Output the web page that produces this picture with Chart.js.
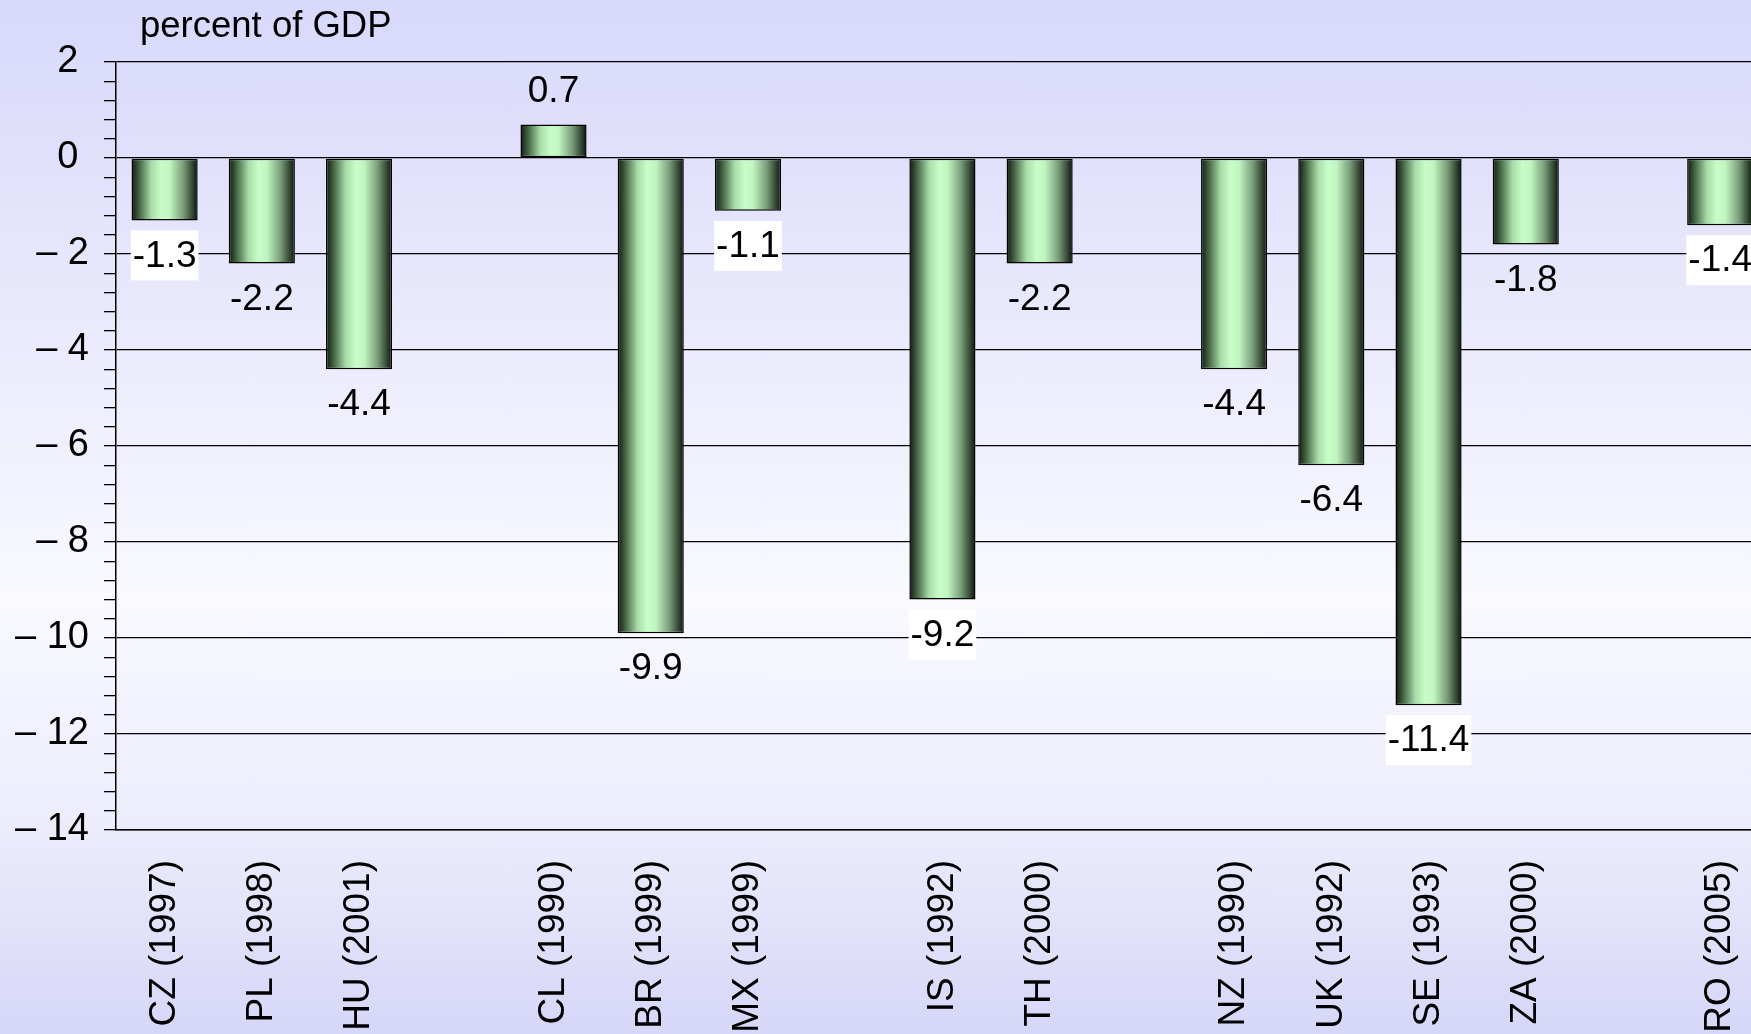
<!DOCTYPE html>
<html>
<head>
<meta charset="utf-8">
<script src="https://cdn.jsdelivr.net/npm/chart.js@4.4.1/dist/chart.umd.min.js"></script>
<style>
    html, body {
        margin: 0;
        padding: 0;
        width: 1751px;
        height: 1034px;
        overflow: hidden;
    }
    body {
        background: linear-gradient(to bottom, #d8d8fb 0%, #e6e6fc 25%, #f9f9ff 58%, #ececfc 80%, #d6d6f8 100%);
    }
    canvas { display: block; }
</style>
</head>
<body>
<canvas id="chart" width="1795" height="1034"></canvas>
<script>
const countries = ['CZ (1997)', 'PL (1998)', 'HU (2001)', '', 'CL (1990)', 'BR (1999)', 'MX (1999)', '',
    'IS (1992)', 'TH (2000)', '', 'NZ (1990)', 'UK (1992)', 'SE (1993)', 'ZA (2000)', '', 'RO (2005)'];
const balance = [-1.3, -2.2, -4.4, null, 0.7, -9.9, -1.1, null,
    -9.2, -2.2, null, -4.4, -6.4, -11.4, -1.8, null, -1.4];
const yMin = -14;
const yMax = 2;
const unitLabel = 'percent of GDP';

const FONT = "'Liberation Sans', Arial, sans-serif";
const BAR_PCT = 0.68;

const isMajor = (v) => Math.abs(v / 2 - Math.round(v / 2)) < 1e-6;

// horizontal shading of each bar (dark edges, light centre)
const barFill = (ctx) => {
    const chart = ctx.chart;
    const x = chart.scales.x;
    if (!x || x.ticks.length < 2) return '#c8fcc8';
    const cx = x.getPixelForValue(ctx.dataIndex);
    const half = (x.getPixelForTick(1) - x.getPixelForTick(0)) * BAR_PCT / 2;
    const g = chart.ctx.createLinearGradient(cx - half, 0, cx + half, 0);
    g.addColorStop(0, '#101810');
    g.addColorStop(0.1, '#3c5a3c');
    g.addColorStop(0.3, '#a8dca8');
    g.addColorStop(0.45, '#c8fdc8');
    g.addColorStop(0.58, '#c0f4c0');
    g.addColorStop(0.78, '#7a9e7a');
    g.addColorStop(0.92, '#344834');
    g.addColorStop(1, '#0c120c');
    return g;
}

const valueLabels = {
    id: 'valueLabels',
    afterDatasetsDraw(chart) {
        const c = chart.ctx;
        const y = chart.scales.y;
        const meta = chart.getDatasetMeta(0);
        c.save();
        c.font = '37px ' + FONT;
        c.textAlign = 'center';
        c.textBaseline = 'middle';
        meta.data.forEach((bar, i) => {
            const v = balance[i];
            if (v === null) return;
            const text = v.toFixed(1);
            const ty = v < 0 ? bar.y + 35 : bar.y - 34;
            const w = c.measureText(text).width + 4;
            const top = ty - 25, bottom = ty + 25;
            // white box only where a gridline runs through the label
            let crosses = false;
            for (let g = yMin; g <= yMax; g += 2) {
                const py = y.getPixelForValue(g);
                if (py > top && py < bottom) crosses = true;
            }
            if (crosses) {
                c.fillStyle = '#ffffff';
                c.fillRect(bar.x - w / 2, top, w, bottom - top);
            }
            c.fillStyle = '#000000';
            c.fillText(text, bar.x, ty + 1);
        });
        c.restore();
    },
    afterDraw(chart) {
        const c = chart.ctx;
        c.save();
        c.font = '36.5px ' + FONT;
        c.fillStyle = '#000000';
        c.textBaseline = 'middle';
        c.fillText(unitLabel, chart.chartArea.left + 24, 27);
        c.restore();
    }
};

new Chart(document.getElementById('chart'), {
    type: 'bar',
    data: {
        labels: countries,
        datasets: [{
            data: balance,
            backgroundColor: barFill,
            borderColor: '#000000',
            borderWidth: 1.5,
            borderSkipped: false,
            barPercentage: BAR_PCT,
            categoryPercentage: 1
        }]
    },
    options: {
        responsive: false,
        animation: false,
        devicePixelRatio: 1,
        layout: { padding: { top: 62, right: 13, left: 0, bottom: 0 } },
        plugins: {
            legend: { display: false },
            tooltip: { enabled: false }
        },
        scales: {
            x: {
                offset: true,
                grid: { display: false, drawTicks: false },
                border: { display: true, color: '#000000', width: 1.5 },
                ticks: {
                    autoSkip: false,
                    minRotation: 90,
                    maxRotation: 90,
                    padding: 30,
                    color: '#000000',
                    font: { family: FONT, size: 37 }
                },
                afterFit: (scale) => { scale.height = 204; }
            },
            y: {
                min: yMin,
                max: yMax,
                grid: {
                    color: (ctx) => isMajor(ctx.tick.value) ? '#000000' : 'rgba(0,0,0,0)',
                    tickColor: '#000000',
                    lineWidth: 1.3,
                    tickLength: 12
                },
                border: { display: true, color: '#000000', width: 1.5 },
                ticks: {
                    stepSize: 0.4,
                    autoSkip: false,
                    padding: 15,
                    color: '#000000',
                    font: { family: FONT, size: 38 },
                    callback: (v) => {
                        if (!isMajor(v)) return '';
                        const n = Math.round(v);
                        return n < 0 ? '\u2013 ' + Math.abs(n) : n + ' ';
                    }
                },
                afterFit: (scale) => { scale.width = 116; }
            }
        }
    },
    plugins: [valueLabels]
});
</script>
</body>
</html>
